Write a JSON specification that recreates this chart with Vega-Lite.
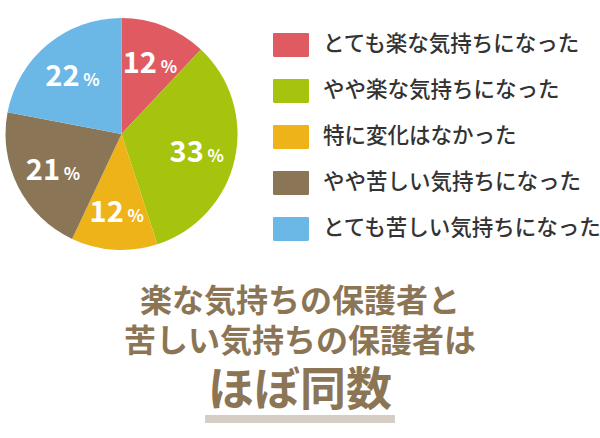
{
  "$schema": "https://vega.github.io/schema/vega-lite/v6.json",
  "padding": {"left": 4, "top": 18, "right": 0, "bottom": 0},
  "spacing": 32,
  "config": {"view": {"stroke": null}},
  "vconcat": [
    {
      "width": 235,
      "height": 232,
      "data": {"values": [
        {"category": "とても楽な気持ちになった", "value": 12, "idx": 1},
        {"category": "やや楽な気持ちになった", "value": 33, "idx": 2},
        {"category": "特に変化はなかった", "value": 12, "idx": 3},
        {"category": "やや苦しい気持ちになった", "value": 21, "idx": 4},
        {"category": "とても苦しい気持ちになった", "value": 22, "idx": 5}
      ]},
      "encoding": {
        "theta": {"field": "value", "type": "quantitative", "stack": true},
        "order": {"field": "idx", "type": "quantitative"}
      },
      "layer": [
        {
          "mark": {"type": "arc", "strokeWidth": 0},
          "encoding": {
            "color": {
              "field": "category", "type": "nominal",
              "scale": {
                "domain": ["とても楽な気持ちになった", "やや楽な気持ちになった", "特に変化はなかった", "やや苦しい気持ちになった", "とても苦しい気持ちになった"],
                "range": ["#E05B61", "#A6C30E", "#EFB31A", "#8A7657", "#6BB8E6"]
              },
              "legend": {
                "title": null,
                "orient": "none",
                "legendX": 275,
                "legendY": 15,
                "symbolType": "M-1.4,-1H1.4A0.1,0.1 0 0 1 1.5,-0.9V0.9A0.1,0.1 0 0 1 1.4,1H-1.4A0.1,0.1 0 0 1 -1.5,0.9V-0.9A0.1,0.1 0 0 1 -1.4,-1Z",
                "symbolSize": 576,
                "symbolStrokeWidth": 0,
                "symbolOpacity": 1,
                "labelFont": "Noto Sans CJK JP",
                "labelFontSize": 21.5,
                "labelFontWeight": 500,
                "labelColor": "#333333",
                "labelOffset": 20,
                "labelLimit": 400,
                "rowPadding": 21
              }
            }
          }
        },
        {
          "mark": {"type": "text", "radius": 77, "dx": -10, "dy": 11, "baseline": "alphabetic", "align": "center", "font": "Noto Sans CJK JP", "fontSize": 29, "fontWeight": "bold", "color": "#FFFFFF"},
          "encoding": {"text": {"field": "value", "type": "quantitative"}}
        },
        {
          "mark": {"type": "text", "radius": 77, "dx": 19, "dy": 11, "baseline": "alphabetic", "align": "center", "font": "Noto Sans CJK JP", "fontSize": 17, "fontWeight": "bold", "color": "#FFFFFF"},
          "encoding": {"text": {"value": "%"}}
        }
      ]
    },
    {
      "width": 592,
      "height": 120,
      "data": {"values": [
        {"line": "L1", "text": "楽な気持ちの保護者と", "kind": "sub"},
        {"line": "L2", "text": "苦しい気持ちの保護者は", "kind": "sub"},
        {"line": "L3", "text": "ほぼ同数", "kind": "main"}
      ]},
      "layer": [
        {
          "mark": {"type": "rule", "strokeWidth": 8, "color": "#D6CEC5", "strokeCap": "butt", "yOffset": 37},
          "encoding": {
            "x": {"datum": 0.34, "type": "quantitative", "scale": {"domain": [0, 1]}, "axis": null},
            "x2": {"datum": 0.66},
            "y": {"datum": "L3", "type": "nominal", "scale": {"type": "point", "domain": ["L1", "L2", "L3"], "padding": 0.5}, "axis": null}
          }
        },
        {
          "transform": [{"filter": "datum.kind === 'sub'"}],
          "mark": {"type": "text", "font": "Noto Sans CJK JP", "fontSize": 32, "fontWeight": "bold", "color": "#8B7555", "baseline": "middle", "align": "center"},
          "encoding": {
            "y": {"field": "line", "type": "nominal", "scale": {"type": "point", "domain": ["L1", "L2", "L3"], "padding": 0.5}, "axis": null},
            "text": {"field": "text", "type": "nominal"}
          }
        },
        {
          "transform": [{"filter": "datum.kind === 'main'"}],
          "mark": {"type": "text", "font": "Noto Sans CJK JP", "fontSize": 46, "fontWeight": "bold", "color": "#8B7555", "baseline": "middle", "align": "center", "dy": 9},
          "encoding": {
            "y": {"field": "line", "type": "nominal", "scale": {"type": "point", "domain": ["L1", "L2", "L3"], "padding": 0.5}, "axis": null},
            "text": {"field": "text", "type": "nominal"}
          }
        }
      ]
    }
  ]
}
